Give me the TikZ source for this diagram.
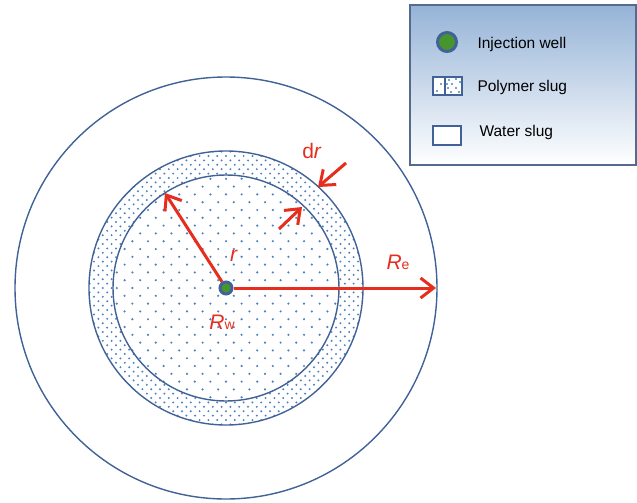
\documentclass[tikz,border=0pt]{standalone}
\usepackage{fontspec}
\setmainfont{Liberation Sans}
\usetikzlibrary{arrows.meta}

\definecolor{ringblue}{RGB}{65,98,150}
\definecolor{dotblue}{RGB}{79,129,189}
\definecolor{arrowred}{RGB}{230,45,30}
\definecolor{wellgreen}{RGB}{70,150,45}
\definecolor{legendtop}{RGB}{149,179,215}

\tikzset{
  ring/.style={draw=ringblue, line width=1.4pt},
  redarrow/.style={draw=arrowred, line width=3pt, -{Straight Barb[length=13pt,width=20pt,line width=3pt]}},
  redlabel/.style={text=arrowred, font=\fontsize{21}{24}\selectfont},
  legendtext/.style={anchor=west, font=\fontsize{15.5}{18}\selectfont},
}

\begin{document}
\begin{tikzpicture}[x=1pt, y=-1pt]
  \useasboundingbox (0,0) rectangle (637,503);

  % polymer slug, dense dots in the ring
  \begin{scope}
    \clip (226,288) circle (137);
    \foreach \j in {-32,...,32} {
      \pgfmathsetmacro{\shift}{mod(abs(\j),2)*4.4}
      \foreach \i in {-16,...,16}
        \fill[dotblue] (226+8.8*\i+\shift, 288+4.4*\j) circle (1.1);
    }
  \end{scope}
  \fill[white] (226,288) circle (113);

  % sparse dots inside
  \begin{scope}
    \clip (226,288) circle (113);
    \foreach \j in {-15,...,15} {
      \pgfmathsetmacro{\shift}{mod(abs(\j),2)*7.8}
      \foreach \i in {-8,...,8}
        \fill[dotblue] (226+15.6*\i+\shift, 288+7.8*\j) circle (1.2);
    }
  \end{scope}

  \draw[ring] (226,288) circle (211);
  \draw[ring] (226,288) circle (137);
  \draw[ring] (226,288) circle (113);

  % arrows
  \node[circle, fill=wellgreen, draw=ringblue, line width=3pt, minimum size=12pt, inner sep=0pt] (well) at (226,288) {};
  \coordinate (rend) at (165,193);
  \coordinate (reend) at (436,288);
  \coordinate (drouttail) at (346,163);
  \coordinate (drouttip) at (318,187);
  \coordinate (drintail) at (279,229);
  \coordinate (drintip) at (302,207);

  \draw[redarrow] (well.east) -- (reend);
  \draw[redarrow] (well) -- (rend);
  \draw[redarrow] (drouttail) -- (drouttip);
  \draw[redarrow] (drintail) -- (drintip);

  \node[redlabel] (rlab) at (234,256) {\textit{r}};
  \node[redlabel] (drlab) at (312,151) {d\textit{r}};
  \node[redlabel] (rwlab) at (222,322) {\textit{R}{\fontsize{14}{16}\selectfont w}};
  \node[redlabel] (relab) at (398,262) {\textit{R}{\fontsize{14}{16}\selectfont e}};

  % legend
  \shade[top color=legendtop, bottom color=white, draw=ringblue!70!gray, line width=1.2pt]
    (410,5) rectangle (636,165);
  \node[circle, fill=wellgreen, draw=ringblue, line width=3pt, minimum size=19pt, inner sep=0pt] (wellkey) at (447,42) {};
  \node[legendtext] (wellname) at (474,44) {Injection well};

  \draw[fill=white, draw=ringblue, line width=1.2pt] (433,77) rectangle (462,95);
  \draw[ringblue, line width=1.2pt] (445,77) -- (445,95);
  \foreach \p in {(437,91),(441,84),(449,80),(456,79),(460,82),(452,84),(448,88),(456,88),(451,92),(459,92),(447,84)}
    \fill[dotblue] \p circle (1.1);
  \node[legendtext] (polyname) at (474,87) {Polymer slug};

  \draw[fill=white, draw=ringblue, line width=1.2pt] (433,126) rectangle (461,145);
  \node[legendtext] (watername) at (476,132) {Water slug};
\end{tikzpicture}
\end{document}
